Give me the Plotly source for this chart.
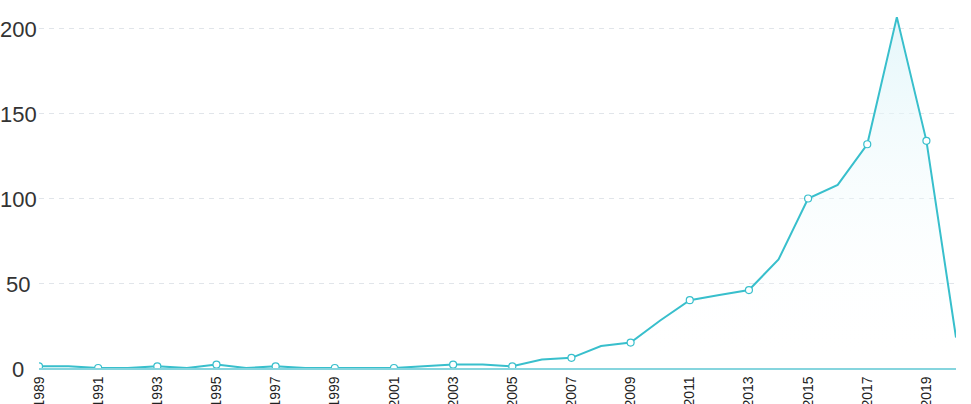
import plotly.graph_objects as go

years = list(range(1989, 2021))
counts = [1, 1, 0, 0, 1, 0, 2, 0, 1, 0, 0, 0, 0, 1, 2, 2, 1, 5, 6, 13, 15, 28,
          40, 43, 46, 64, 100, 108, 132, 207, 134, 18]
tick_years = [y for y in years if y % 2 == 1]
y_ticks = [0, 50, 100, 150, 200]
marker_years = tick_years
marker_counts = [c for y, c in zip(years, counts) if y % 2 == 1]

line_color = "#38bfcc"

fig = go.Figure()
fig.add_trace(go.Scatter(
    x=years, y=counts, mode="lines",
    line=dict(color=line_color, width=2),
    fill="tozeroy",
    fillgradient=dict(type="vertical",
                      colorscale=[[0, "rgba(255,255,255,0.0)"],
                                  [1, "rgba(220,244,249,0.75)"]]),
    hoverinfo="skip", showlegend=False,
))
fig.add_trace(go.Scatter(
    x=marker_years, y=marker_counts, mode="markers",
    marker=dict(symbol="circle", size=7, color="white",
                line=dict(color=line_color, width=1.2)),
    showlegend=False,
))

# centred y-axis labels (as in the reference)
for v in y_ticks:
    fig.add_annotation(
        x=-0.0224, xref="paper", y=v, yref="y", text=str(v),
        showarrow=False, xanchor="center", yanchor="middle", yshift=-1,
        font=dict(size=22, color="#333", family="Liberation Sans, Arial, sans-serif"),
    )

fig.update_layout(
    width=971, height=404,
    margin=dict(l=39, r=15, t=0, b=36),
    paper_bgcolor="white", plot_bgcolor="white",
    font=dict(family="Liberation Sans, Arial, sans-serif", color="#222"),
)
fig.update_xaxes(
    range=[1989, 2020], tickvals=tick_years,
    ticktext=[str(y) for y in tick_years],
    tickangle=-90, tickfont=dict(size=14, color="#222"),
    showgrid=False, zeroline=False, automargin=False,
    showline=True, linecolor="#86d5de", linewidth=1.5,
    ticks="", ticklen=0, ticklabelstandoff=1,
)
fig.update_yaxes(
    range=[0, 217.1], tickvals=y_ticks, showticklabels=False,
    showgrid=True, gridcolor="#e1e5ea", griddash="5px,5px", gridwidth=1,
    zeroline=False, showline=False, ticks="",
    automargin=False,
)

fig.write_html("out.html", config={"displayModeBar": False},
               post_script="document.body.style.margin='0px';document.body.style.overflow='hidden';")
